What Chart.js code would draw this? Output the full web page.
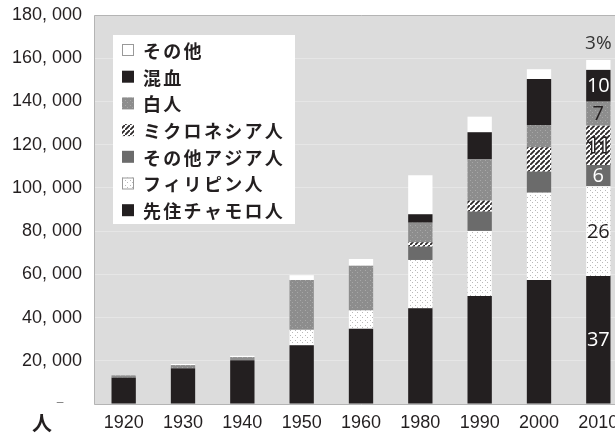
<!DOCTYPE html>
<html>
<head>
<meta charset="utf-8">
<script src="https://cdn.jsdelivr.net/npm/chart.js@4"></script>
<style>
  html, body { margin: 0; padding: 0; background: #fff; overflow: hidden; }
</style>
</head>
<body>
<canvas id="myChart" width="630" height="436"></canvas>
<script>
// データ（人）
var years = ['1920', '1930', '1940', '1950', '1960', '1980', '1990', '2000', '2010'];
var chamorro    = [12200, 16500, 20300, 27200, 34800, 44300, 50000, 57400, 59200];
var filipino    = [0, 0, 0, 7100, 8500, 22350, 30100, 40400, 41600];
var otherAsian  = [0, 0, 0, 0, 0, 6150, 8900, 9700, 9800];
var micronesian = [0, 0, 0, 0, 0, 2050, 5100, 11300, 18200];
var white       = [1050, 1500, 1400, 23100, 20700, 9050, 19150, 10300, 11100];
var mixed       = [0, 0, 0, 0, 0, 3900, 12500, 21300, 14700];
var other       = [0, 500, 600, 2200, 3100, 18050, 7200, 4500, 4600];
var seriesNames = ['先住チャモロ人', 'フィリピン人', 'その他アジア人', 'ミクロネシア人', '白人', '混血', 'その他'];
var pct2010 = ['37', '26', '6', '11', '7', '10', '3%'];
var yTicks = [0, 20000, 40000, 60000, 80000, 100000, 120000, 140000, 160000, 180000];

// 模様
function dots(bg, dot, step) {
  var c = document.createElement('canvas');
  c.width = c.height = step;
  var g = c.getContext('2d');
  g.fillStyle = bg; g.fillRect(0, 0, step, step);
  g.fillStyle = dot;
  g.fillRect(0, 0, 1, 1);
  g.fillRect(Math.floor(step / 2), Math.floor(step / 2), 1, 1);
  return g.createPattern(c, 'repeat');
}
function hatch() {
  var s = 5;
  var c = document.createElement('canvas');
  c.width = c.height = s;
  var g = c.getContext('2d');
  g.fillStyle = '#fff'; g.fillRect(0, 0, s, s);
  g.strokeStyle = '#2a2627'; g.lineWidth = 1.8;
  g.beginPath();
  g.moveTo(-1, s + 1); g.lineTo(s + 1, -1);
  g.moveTo(-2, 1); g.lineTo(1, -2);
  g.moveTo(s - 1, s + 2); g.lineTo(s + 2, s - 1);
  g.stroke();
  return g.createPattern(c, 'repeat');
}

var fills = [
  '#231f20',
  dots('#ffffff', '#b9b9b9', 5),
  '#6b6b6b',
  hatch(),
  dots('#8d8d8d', '#a7a7a7', 5),
  '#231f20',
  '#ffffff'
];
var seriesData = [chamorro, filipino, otherAsian, micronesian, white, mixed, other];

var datasets = seriesNames.map(function (n, i) {
  return { label: n, data: seriesData[i], backgroundColor: fills[i], borderWidth: 0 };
});

var numFont = '"Liberation Sans", Arial, sans-serif';

var decor = {
  id: 'decor',
  beforeDraw: function (chart) {
    var a = chart.chartArea, c = chart.ctx;
    c.save();
    c.fillStyle = '#dcdcdc';
    c.fillRect(a.left, a.top, a.right - a.left, a.bottom - a.top);
    c.restore();
  },
  afterDraw: function (chart) {
    var a = chart.chartArea, c = chart.ctx;
    c.save();
    // 枠
    c.strokeStyle = '#b4b4b4'; c.lineWidth = 1;
    c.beginPath();
    c.moveTo(a.right, a.top + 0.5); c.lineTo(a.left + 0.5, a.top + 0.5);
    c.lineTo(a.left + 0.5, a.bottom + 0.5); c.lineTo(a.right, a.bottom + 0.5);
    c.stroke();

    // 凡例
    var lx = 113, ly = 35, lw = 182, lh = 189;
    c.fillStyle = '#fff';
    c.fillRect(lx, ly, lw, lh);
    c.font = 'bold 18px "Noto Sans CJK JP"';
    if ('letterSpacing' in c) c.letterSpacing = '2.3px';
    c.textBaseline = 'middle';
    c.textAlign = 'left';
    for (var k = 0; k < datasets.length; k++) {
      var i = datasets.length - 1 - k;
      var cy = 50 + k * 26.7;
      c.fillStyle = fills[i];
      c.fillRect(122, cy - 6, 12, 12);
      if (i === 1 || i === 6) {
        c.strokeStyle = '#999'; c.lineWidth = 1;
        c.strokeRect(122.5, cy - 5.5, 11, 11);
      }
      c.fillStyle = '#231f20';
      c.fillText(seriesNames[i], 143, cy + 1);
    }
    if ('letterSpacing' in c) c.letterSpacing = '0px';

    // 2010年の割合
    var last = years.length - 1;
    c.textAlign = 'center';
    for (var d = 0; d < datasets.length; d++) {
      var el = chart.getDatasetMeta(d).data[last];
      var yMid = (el.y + el.base) / 2;
      if (d === datasets.length - 1) {
        c.font = '19px "Open Sans"';
        c.fillStyle = '#333';
        c.fillText(pct2010[d], el.x, el.y - 16);
        continue;
      }
      c.font = '20px "Open Sans"';
      if (d === 3) {
        c.lineWidth = 3; c.strokeStyle = '#231f20';
        c.strokeText(pct2010[d], el.x, yMid + 1);
        c.fillStyle = '#fff';
      } else if (d === 1 || d === 4) {
        c.fillStyle = '#231f20';
      } else {
        c.fillStyle = '#fff';
      }
      c.fillText(pct2010[d], el.x, yMid + 1);
    }

    // 単位
    c.fillStyle = '#231f20';
    c.font = 'bold 20px "Noto Sans CJK JP"';
    c.fillText('人', 42, 423);
    c.font = '12px ' + numFont;
    c.fillStyle = '#777';
    c.fillText('–', 60, 403);
    c.restore();
  }
};

var ctx = document.getElementById('myChart').getContext('2d');
var myChart = new Chart(ctx, {
  type: 'bar',
  data: { labels: years, datasets: datasets },
  plugins: [decor],
  options: {
    responsive: false,
    animation: false,
    layout: { padding: { top: 15, right: 2, left: 0, bottom: 0 } },
    plugins: { legend: { display: false }, tooltip: { enabled: false } },
    datasets: { bar: { barPercentage: 0.41, categoryPercentage: 1 } },
    scales: {
      x: {
        stacked: true,
        grid: { display: false, drawTicks: false },
        border: { display: false },
        ticks: { color: '#231f20', padding: 8, font: { family: numFont, size: 18 } },
        afterFit: function (s) { s.height = 32; s.paddingLeft = 0; s.paddingRight = 0; }
      },
      y: {
        stacked: true,
        min: 0, max: 180000,
        grid: { color: '#e6e6e6', drawTicks: false },
        border: { display: false },
        afterBuildTicks: function (s) { s.ticks = yTicks.map(function (v) { return { value: v }; }); },
        ticks: {
          color: '#231f20', padding: 12,
          font: { family: numFont, size: 18 },
          callback: function (v) {
            if (v === 0) return '';
            var t = String(v);
            return t.slice(0, t.length - 3) + ', ' + t.slice(t.length - 3);
          }
        },
        afterFit: function (s) { s.width = 94; s.paddingTop = 0; s.paddingBottom = 0; }
      }
    }
  }
});
</script>
</body>
</html>
